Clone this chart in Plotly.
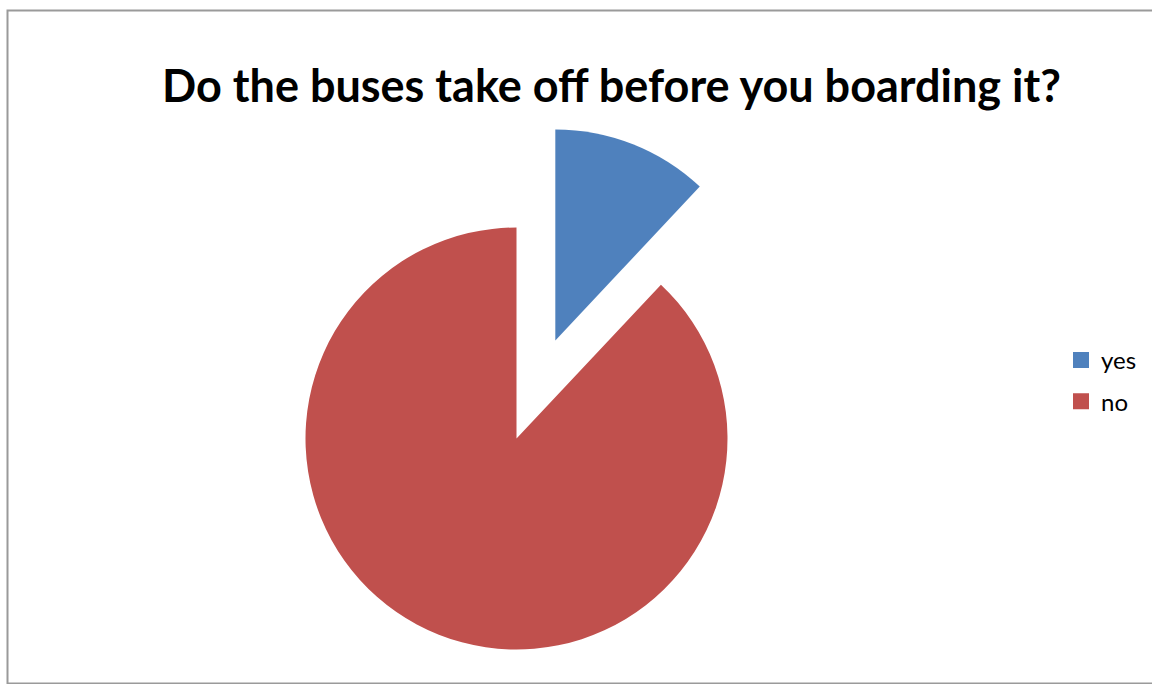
import math
import plotly.graph_objects as go

# Survey answers (% of respondents)
labels = ["yes", "no"]
shares = [12, 88]
colors = ["#4F81BD", "#C0504D"]

title_text = "Do the buses take off before you boarding it?"

W, H = 1152, 684
CX, CY, R = 516.5, 438.5, 211.0   # pie centre / radius in pixels
PULL = 0.5                          # "yes" slice exploded by half a radius


def domain_for(cx, cy, r):
    return dict(x=[(cx - r) / W, (cx + r) / W],
                y=[1 - (cy + r) / H, 1 - (cy - r) / H])


# exploded slice moves outward along its bisector (clockwise from 12 o'clock)
total = sum(shares)
theta = math.pi * shares[0] / total
ex_cx = CX + PULL * R * math.sin(theta)
ex_cy = CY - PULL * R * math.cos(theta)

transparent = "rgba(0,0,0,0)"
common = dict(labels=labels, values=shares, sort=False, direction="clockwise",
              rotation=0, textinfo="none")

fig = go.Figure()

# legend carriers, one per answer so the entries can be spaced apart
# (tiny, hidden under the main pie)
for lab, val, col in zip(labels, shares, colors):
    fig.add_trace(go.Pie(
        labels=[lab], values=[val], sort=False, textinfo="none",
        marker=dict(colors=[col], line=dict(color=[col], width=4)),
        domain=dict(x=[0.40, 0.4001], y=[0.40, 0.4001]),
        legendgroup=lab, hoverinfo="skip", showlegend=True,
    ))

# body of the pie: the "no" slice
fig.add_trace(go.Pie(
    **common,
    marker=dict(colors=[transparent, colors[1]], line=dict(width=0)),
    domain=domain_for(CX, CY, R),
    hoverinfo="label+percent", showlegend=False,
))

# exploded "yes" slice
fig.add_trace(go.Pie(
    **common,
    marker=dict(colors=[colors[0], transparent], line=dict(width=0)),
    domain=domain_for(ex_cx, ex_cy, R),
    hoverinfo="label+percent", showlegend=False,
))

fig.update_layout(
    width=W, height=H,
    margin=dict(l=0, r=0, t=0, b=0),
    paper_bgcolor="white", plot_bgcolor="white",
    title=dict(text=f"<b>{title_text}</b>", x=611.5 / W, xanchor="center",
               y=1 - 86 / H, yanchor="middle",
               font=dict(family="Lato", size=45, color="black")),
    legend=dict(x=1061 / W, xanchor="left", y=1 - 338 / H, yanchor="top",
                font=dict(family="Lato", size=24, color="black"),
                bgcolor="rgba(0,0,0,0)", traceorder="grouped",
                tracegroupgap=7),
    shapes=[dict(type="rect", xref="paper", yref="paper",
                 x0=7.5 / W, x1=1.01, y0=1 - 683.5 / H, y1=1 - 10.5 / H,
                 line=dict(color="#9a9a9a", width=2), layer="above")],
)

fig.write_html("out.html")
